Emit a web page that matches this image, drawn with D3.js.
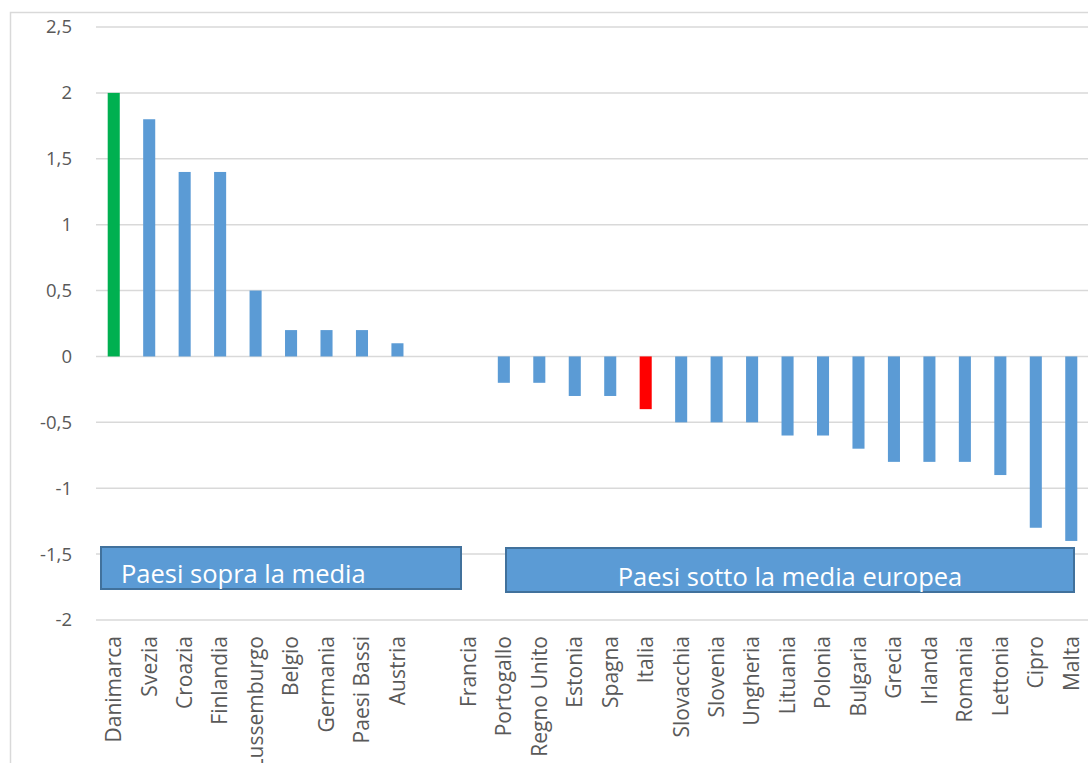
<!DOCTYPE html>
<html lang="it">
<head>
<meta charset="UTF-8">
<title>Paesi sopra e sotto la media europea</title>
<style>
    html, body { margin: 0; padding: 0; background: #fff; }
    svg { display: block; font-family: "Open Sans", "Noto Sans", sans-serif; }
</style>
</head>
<body>
<svg width="1088" height="763"></svg>
<script src="https://d3js.org/d3.v7.min.js"></script>
<script>
    // dati (lo slot vuoto tra Austria e Francia resta vuoto)
    const paesi = ["Danimarca", "Svezia", "Croazia", "Finlandia", "Lussemburgo", "Belgio", "Germania",
        "Paesi Bassi", "Austria", "", "Francia", "Portogallo", "Regno Unito", "Estonia", "Spagna", "Italia",
        "Slovacchia", "Slovenia", "Ungheria", "Lituania", "Polonia", "Bulgaria", "Grecia", "Irlanda",
        "Romania", "Lettonia", "Cipro", "Malta"];
    const valori = [2, 1.8, 1.4, 1.4, 0.5, 0.2, 0.2, 0.2, 0.1, null, 0, -0.2, -0.2, -0.3, -0.3, -0.4,
        -0.5, -0.5, -0.5, -0.6, -0.6, -0.7, -0.8, -0.8, -0.8, -0.9, -1.3, -1.4];
    const yTicks = [2.5, 2, 1.5, 1, 0.5, 0, -0.5, -1, -1.5, -2];
    const evidenziati = {"Danimarca": "#00b050", "Italia": "#ff0000"};
    const etichetteBox = ["Paesi sopra la media", "Paesi sotto la media europea"];

    const svg = d3.select("svg");

    // cornice dell'area grafico
    svg.append("rect")
        .attr("x", 10.5).attr("y", 12.5)
        .attr("width", 1100).attr("height", 800)
        .attr("fill", "none").attr("stroke", "#d9d9d9").attr("stroke-width", 1.5);

    const x = d3.scaleBand()
        .domain(d3.range(paesi.length))
        .range([96, 1089])
        .paddingInner(0.66)
        .paddingOuter(0.33);

    const y = d3.scaleLinear().domain([-2, 2.5]).range([620, 27]);

    // griglia
    svg.append("g").selectAll("line")
        .data(yTicks)
        .join("line")
        .attr("x1", 96).attr("x2", 1088)
        .attr("y1", d => y(d)).attr("y2", d => y(d))
        .attr("stroke", "#d9d9d9").attr("stroke-width", 1.5);

    // etichette asse y
    const fmt = d => String(d).replace(".", ",");
    const yAxis = d3.axisLeft(y).tickValues(yTicks).tickFormat(fmt).tickSize(0).tickPadding(0);
    svg.append("g")
        .attr("transform", "translate(72,0)")
        .call(yAxis)
        .call(g => g.select(".domain").remove())
        .selectAll("text")
        .attr("font-family", "'Open Sans', sans-serif")
        .attr("font-size", 18.5)
        .attr("fill", "#595959");

    // barre
    const dati = paesi.map((p, i) => ({i, p, v: valori[i]})).filter(d => d.v !== null && d.v !== 0);
    svg.append("g").selectAll("rect")
        .data(dati)
        .join("rect")
        .attr("x", d => x(d.i))
        .attr("width", x.bandwidth())
        .attr("y", d => y(Math.max(0, d.v)))
        .attr("height", d => Math.abs(y(d.v) - y(0)))
        .attr("fill", d => evidenziati[d.p] || "#5b9bd5");

    // etichette categorie ruotate
    svg.append("g").selectAll("text")
        .data(paesi.map((p, i) => ({i, p})).filter(d => d.p))
        .join("text")
        .attr("transform", d => `translate(${x(d.i) + x.bandwidth() / 2},636) rotate(-90)`)
        .attr("dy", "0.35em")
        .attr("text-anchor", "end")
        .attr("font-size", 21)
        .attr("fill", "#595959")
        .text(d => d.p);

    // riquadri di annotazione
    const boxes = [
        {x0: 101, x1: 461, y0: 547, y1: 589, testo: etichetteBox[0], anchor: "start", tx: 121},
        {x0: 506, x1: 1074, y0: 548, y1: 592, testo: etichetteBox[1], anchor: "middle", tx: 790}
    ];
    const gb = svg.append("g").selectAll("g").data(boxes).join("g");
    gb.append("rect")
        .attr("x", d => d.x0).attr("y", d => d.y0)
        .attr("width", d => d.x1 - d.x0).attr("height", d => d.y1 - d.y0)
        .attr("fill", "#5b9bd5").attr("stroke", "#41719c").attr("stroke-width", 2);
    gb.append("text")
        .attr("x", d => d.tx).attr("y", d => d.y1 - 6)
        .attr("text-anchor", d => d.anchor)
        .attr("font-size", 25.5)
        .attr("fill", "#fff")
        .text(d => d.testo);
</script>
</body>
</html>
